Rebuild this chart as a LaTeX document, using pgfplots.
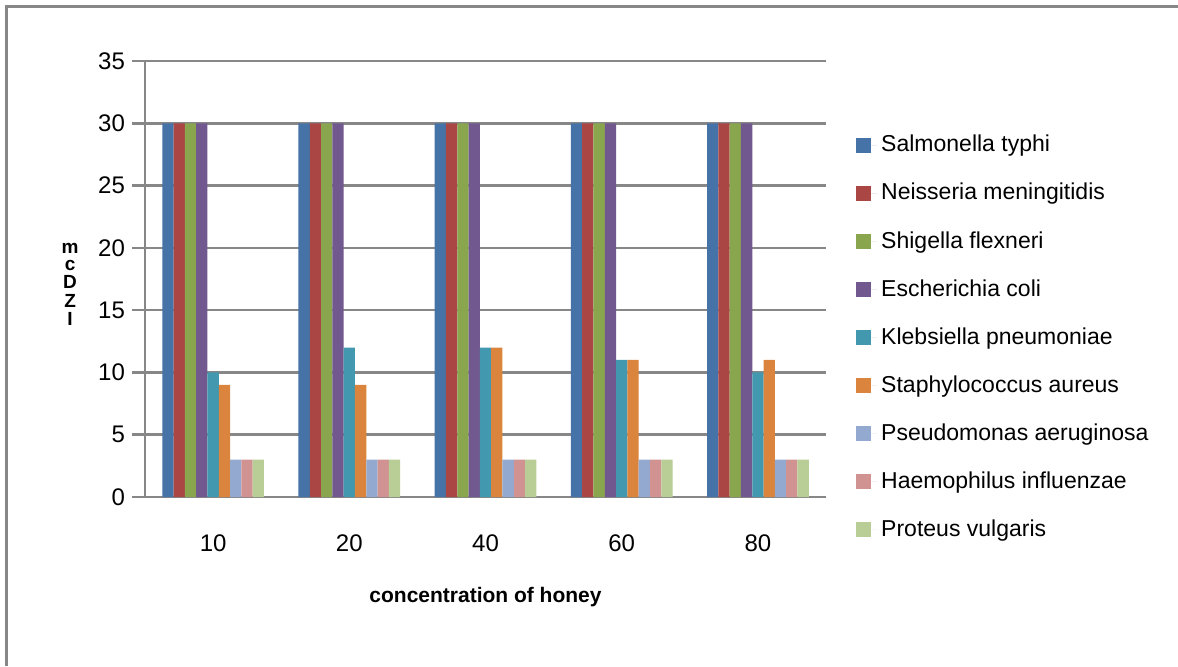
\documentclass[border=0pt]{standalone}
\usepackage{pgfplots}
\pgfplotsset{compat=1.18}
\usepackage{fontspec}
\setmainfont{Liberation Sans}
\definecolor{gridgray}{HTML}{878787}
\definecolor{c1}{HTML}{4572A7}
\definecolor{c2}{HTML}{AA4643}
\definecolor{c3}{HTML}{89A54E}
\definecolor{c4}{HTML}{71588F}
\definecolor{c5}{HTML}{4198AF}
\definecolor{c6}{HTML}{DB843D}
\definecolor{c7}{HTML}{93A9CF}
\definecolor{c8}{HTML}{D19392}
\definecolor{c9}{HTML}{B9CD96}
\pgfplotsset{/pgfplots/ybar legend/.style={/pgfplots/legend image code/.code={%
  \fill[##1,draw=none] (0pt,-3.75pt) rectangle (7.5pt,3.75pt);
  \path (0pt,0pt) -- (10.5pt,0pt);}}}
\begin{document}
\begin{tikzpicture}
\useasboundingbox (0,0) rectangle (589pt,333pt);
\draw[gridgray,line width=1.5pt] (3pt,0) -- (3pt,329.5pt) -- (589pt,329.5pt);
\begin{axis}[at={(72.5pt,84.5pt)},anchor=south west,
  width=340.5pt,height=218pt,scale only axis,
  ybar=0pt,bar width=5.65pt,
  xmin=-0.5,xmax=4.5,ymin=0,ymax=35,
  xtick={0,1,2,3,4},xticklabels={10,20,40,60,80},
  ytick={0,5,...,35},
  /pgf/number format/assume math mode=true,
  axis x line*=bottom,axis y line*=left,
  axis line style={draw=gridgray,line width=1.3pt,-},
  ymajorgrids,grid style={draw=gridgray,line width=1.3pt},
  major tick length=6.5pt,tick align=outside,
  ytick style={draw=gridgray,line width=1.3pt},
  xtick style={draw=none},
  tick label style={font=\fontsize{12}{14}\selectfont},
  xticklabel style={yshift=-9pt},
  xlabel={concentration of honey},
  xlabel style={font=\bfseries\fontsize{10.5}{12}\selectfont,at={(axis description cs:0.5,-0.229)},anchor=center},
  ylabel={\fontsize{9.5}{8.6}\selectfont\begin{tabular}{@{}c@{}}m\\c\\D\\Z\\I\end{tabular}},
  ylabel style={rotate=-90,font=\bfseries,at={(axis description cs:-0.11,0.484)},anchor=center},
  legend style={draw=none,fill=none,at={(1.035,0.849)},anchor=north west,
    font=\fontsize{11.5}{13}\selectfont,row sep=10.2pt},
  legend cell align=left,
]
\addplot[fill=c1,draw=none] coordinates {(0,30) (1,30) (2,30) (3,30) (4,30)};
\addlegendentry{Salmonella typhi}
\addplot[fill=c2,draw=none] coordinates {(0,30) (1,30) (2,30) (3,30) (4,30)};
\addlegendentry{Neisseria meningitidis}
\addplot[fill=c3,draw=none] coordinates {(0,30) (1,30) (2,30) (3,30) (4,30)};
\addlegendentry{Shigella flexneri}
\addplot[fill=c4,draw=none] coordinates {(0,30) (1,30) (2,30) (3,30) (4,30)};
\addlegendentry{Escherichia coli}
\addplot[fill=c5,draw=none] coordinates {(0,10) (1,12) (2,12) (3,11) (4,10)};
\addlegendentry{Klebsiella pneumoniae}
\addplot[fill=c6,draw=none] coordinates {(0,9) (1,9) (2,12) (3,11) (4,11)};
\addlegendentry{Staphylococcus aureus}
\addplot[fill=c7,draw=none] coordinates {(0,3) (1,3) (2,3) (3,3) (4,3)};
\addlegendentry{Pseudomonas aeruginosa}
\addplot[fill=c8,draw=none] coordinates {(0,3) (1,3) (2,3) (3,3) (4,3)};
\addlegendentry{Haemophilus influenzae}
\addplot[fill=c9,draw=none] coordinates {(0,3) (1,3) (2,3) (3,3) (4,3)};
\addlegendentry{Proteus vulgaris}
\end{axis}
\end{tikzpicture}
\end{document}
